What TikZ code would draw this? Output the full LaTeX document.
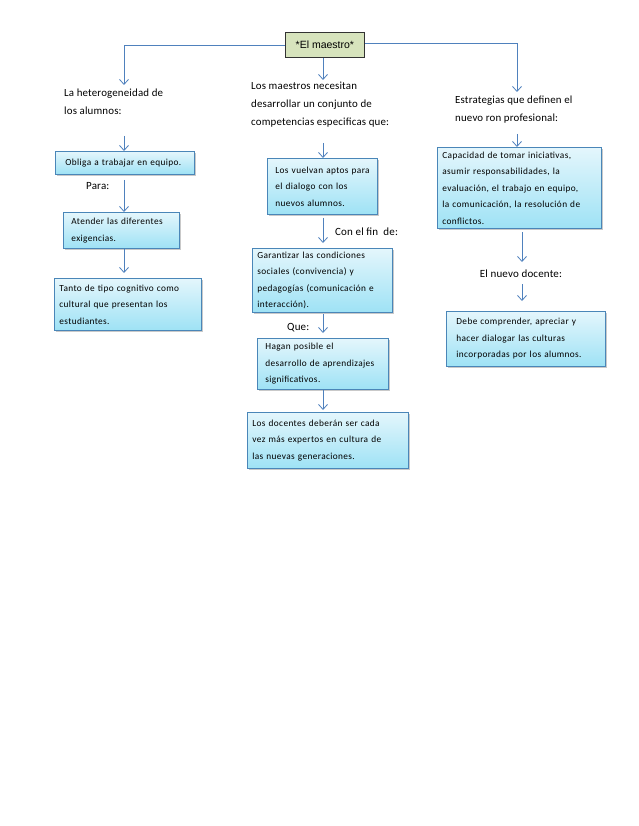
\documentclass[tikz,border=0pt]{standalone}
\usepackage{fontspec}
\setmainfont{Carlito}
\newfontfamily\boxfont[LetterSpace=4]{Carlito}
\newfontfamily\headfont[LetterSpace=1.5]{Carlito}
\newfontfamily\arialf{Liberation Sans}
\usetikzlibrary{arrows.meta,shadows}
\definecolor{linec}{HTML}{4F81BD}
\definecolor{boxtop}{HTML}{E4F6FC}
\definecolor{boxbot}{HTML}{9EE2F5}
\definecolor{boxline}{HTML}{4A86B8}
\definecolor{titlefill}{HTML}{D7E4BD}
\tikzset{
  box/.style={draw=boxline, line width=0.8pt, top color=boxtop, bottom color=boxbot,
    anchor=north west, align=left, inner xsep=8pt, inner ysep=3pt,
    font=\boxfont\fontsize{9.3}{16.5}\selectfont,
    drop shadow={shadow xshift=1.5pt, shadow yshift=-1.5pt, fill=black!35, opacity=0.6}},
  head/.style={anchor=north west, align=left, inner sep=0pt, font=\headfont\fontsize{10.9}{18}\selectfont},
  lbl/.style={anchor=base west, inner sep=0pt, font=\headfont\fontsize{11}{12}\selectfont},
  titlebox/.style={draw=black!80, line width=0.8pt, fill=titlefill, anchor=north west,
    font=\arialf\fontsize{10.5}{12}\selectfont},
  arr/.style={draw=linec, line width=0.8pt, -{Straight Barb[length=5pt,width=9pt]}},
  ln/.style={draw=linec, line width=0.8pt}
}
\begin{document}
\begin{tikzpicture}[x=1pt,y=-1pt]
\useasboundingbox[fill=white] (0,0) rectangle (638,826);
% title
\node[titlebox, minimum width=79pt, minimum height=25pt] (t) at (285,32) {*El maestro*};
% headings
\node[head] (h1) at (64,89) {La heterogeneidad de\\los alumnos:};
\node[head] (h2) at (251,82) {Los maestros necesitan\\desarrollar un conjunto de\\competencias especificas que:};
\node[head] (h3) at (455,96) {Estrategias que definen el\\nuevo ron profesional:};
% left column
\node[box, text width=119pt, minimum height=23pt, inner xsep=10pt] (l1) at (55,151) {Obliga a trabajar en equipo.};
\node[lbl] (para) at (86,190) {Para:};
\node[box, text width=100pt, minimum height=36pt] (l2) at (63,212) {Atender las diferentes\\exigencias.};
\node[box, text width=137pt, minimum height=52pt, inner xsep=5pt] (l3) at (54,278) {Tanto de tipo cognitivo como\\cultural que presentan los\\estudiantes.};
% center column
\node[box, text width=94pt, minimum height=56pt] (c1) at (267,158) {Los vuelvan aptos para\\el dialogo con los\\nuevos alumnos.};
\node[lbl] (fin) at (335,236) {Con el fin\ \ de:};
\node[box, text width=130pt, minimum height=64pt, inner xsep=5pt] (c2) at (252,248) {Garantizar las condiciones\\sociales (convivencia) y\\pedagogías (comunicación e\\interacción).};
\node[lbl] (que) at (287,330) {Que:};
\node[box, text width=115pt, minimum height=51pt] (c3) at (257,338) {Hagan posible el\\desarrollo de aprendizajes\\significativos.};
\node[box, text width=151pt, minimum height=56pt, inner xsep=5pt] (c4) at (247,412) {Los docentes deberán ser cada\\vez más expertos en cultura de\\las nuevas generaciones.};
% right column
\node[box, text width=154pt, minimum height=81pt, inner xsep=5pt] (r1) at (437,147) {Capacidad de tomar iniciativas,\\asumir responsabilidades, la\\evaluación, el trabajo en equipo,\\la comunicación, la resolución de\\conflictos.};
\node[lbl, anchor=base] (nd) at (521,277) {El nuevo docente:};
\node[box, text width=139pt, minimum height=55pt, inner xsep=10pt] (r2) at (446,311) {Debe comprender, apreciar y\\hacer dialogar las culturas\\incorporadas por los alumnos.};
% connectors from title
\coordinate (la) at (124,85);
\coordinate (ca) at (323,80);
\coordinate (ra) at (517,92);
\draw[arr] (t.west |- 0,45) -| (la);
\draw[arr] (t.east |- 0,43) -| (ra);
\draw[arr] (t.south -| ca) -- (ca);
% left arrows
\coordinate (l0) at (124,136);
\draw[arr] (l0) -- (l0 |- l1.north);
\coordinate (l1a) at (124,180);
\draw[arr] (l1a) -- (l1a |- l2.north);
\draw[arr] (l2.south -| l1a) -- (124,273);
% center arrows
\coordinate (c0) at (323,143);
\draw[arr] (c0) -- (c0 |- c1.north);
\coordinate (c1a) at (323,218);
\draw[arr] (c1a) -- (323,243);
\coordinate (c2a) at (323,314);
\draw[arr] (c2a) -- (323,333);
\draw[arr] (c3.south -| c2a) -- (323,410);
% right arrows
\coordinate (r0) at (517,134);
\draw[arr] (r0) -- (r0 |- r1.north);
\coordinate (r1a) at (522,232);
\draw[arr] (r1a) -- (522,262);
\coordinate (r2a) at (522,284);
\draw[arr] (r2a) -- (522,301);
\end{tikzpicture}
\end{document}
